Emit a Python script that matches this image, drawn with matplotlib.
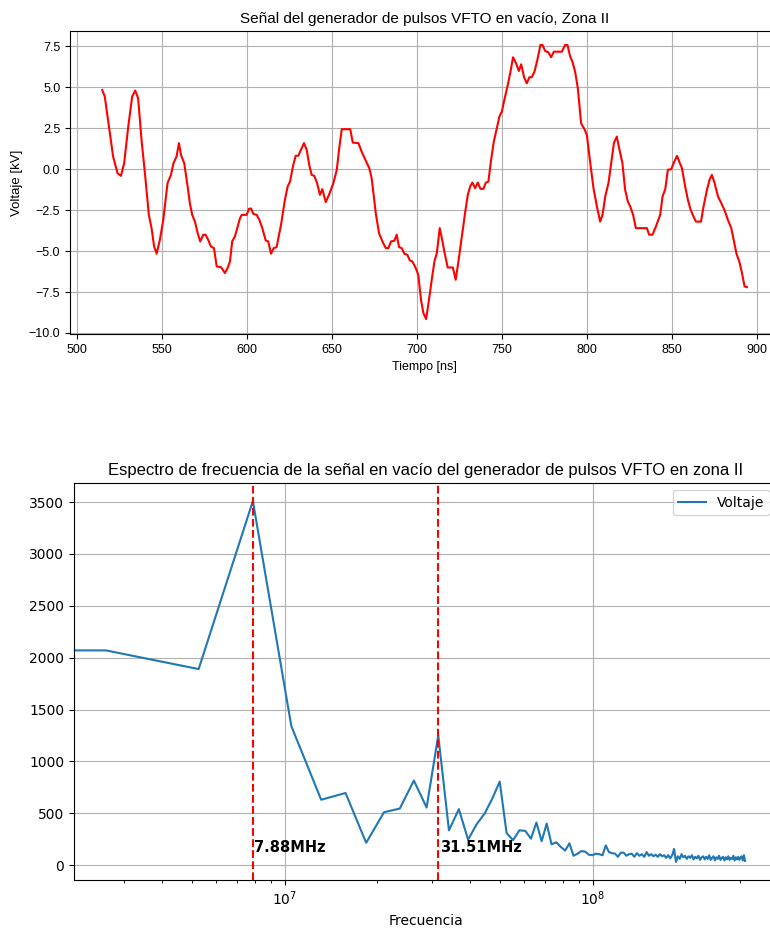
import numpy as np
import matplotlib
matplotlib.use('Agg')
import matplotlib.pyplot as plt

# Señal en el tiempo
tiempo_ns = [515.1, 516.6, 521.5, 524.1, 526.1, 528.0, 530.4, 532.7, 534.5, 536.2,
             538.2, 540.2, 542.5, 544.1, 545.6, 547.1, 549.0, 551.0, 553.5, 555.5,
             557.0, 558.8, 560.2, 561.4, 563.3, 565.3, 566.6, 568.0, 569.6, 571.2,
             572.7, 574.5, 575.8, 577.4, 579.0, 580.8, 582.4, 584.9, 585.7, 587.2,
             588.8, 590.2, 591.5, 593.1, 594.7, 596.1, 597.1, 600.0, 601.4, 602.6,
             603.9, 605.9, 607.5, 609.2, 611.2, 612.7, 614.3, 615.9, 617.6, 620.2,
             622.5, 624.1, 625.5, 627.4, 628.8, 630.4, 631.9, 633.7, 635.3, 636.8,
             638.2, 639.8, 641.4, 643.1, 644.5, 646.5, 648.4, 651.0, 653.0, 654.3,
             655.9, 660.9, 662.4, 665.7, 667.6, 670.0, 672.1, 673.5, 675.9, 677.8,
             679.8, 681.8, 683.3, 684.9, 686.8, 688.2, 689.6, 691.2, 692.7, 694.5,
             695.9, 697.4, 699.4, 700.9, 702.5, 703.9, 705.5, 707.2, 708.8, 710.4,
             711.8, 713.5, 715.1, 716.6, 718.2, 721.2, 722.9, 724.5, 726.5, 728.4,
             730.0, 731.4, 732.7, 734.3, 735.9, 737.4, 739.2, 740.6, 742.1, 743.7,
             745.3, 747.1, 748.6, 750.0, 751.5, 753.5, 755.1, 756.6, 758.4, 760.0,
             761.4, 763.1, 764.7, 766.2, 767.6, 769.2, 770.8, 772.7, 773.9, 775.5,
             777.4, 779.0, 780.6, 785.3, 787.2, 788.6, 790.2, 791.5, 793.1, 794.7,
             796.6, 798.6, 800.0, 802.0, 803.9, 805.9, 807.8, 809.2, 810.8, 812.7,
             814.3, 815.9, 817.6, 819.2, 820.9, 822.5, 824.1, 825.5, 827.2, 828.8,
             835.3, 836.6, 838.6, 840.6, 843.1, 844.5, 846.1, 847.6, 849.6, 851.0,
             853.0, 854.3, 855.9, 857.8, 859.4, 861.0, 862.7, 864.1, 867.1, 868.6,
             870.6, 872.1, 873.5, 875.1, 877.1, 879.0, 881.0, 882.9, 884.9, 886.5,
             888.0, 889.6, 891.2, 892.7, 894.1]
voltaje_kv = [4.83, 4.43, 0.77, -0.24, -0.41, 0.37, 2.6, 4.43, 4.8, 4.33,
              1.79, -0.24, -2.79, -3.6, -4.72, -5.16, -4.31, -3.09, -0.85, -0.35,
              0.37, 0.77, 1.59, 0.87, 0.37, -1.06, -2.07, -2.79, -3.2, -3.9,
              -4.41, -4.0, -4.0, -4.31, -4.72, -4.82, -5.94, -5.98, -6.1, -6.34,
              -6.04, -5.63, -4.41, -4.11, -3.5, -2.99, -2.79, -2.79, -2.42, -2.4,
              -2.73, -2.79, -3.1, -3.6, -4.35, -4.41, -5.16, -4.82, -4.76, -3.4,
              -1.87, -1.06, -0.76, 0.26, 0.81, 0.83, 1.18, 1.59, 1.18, 0.26,
              -0.35, -0.41, -0.85, -1.57, -1.22, -2.01, -1.57, -0.85, -0.04, 1.18,
              2.44, 2.44, 1.62, 1.59, 1.07, 0.52, 0.06, -0.55, -2.68, -3.9,
              -4.41, -4.82, -4.82, -4.41, -4.37, -4.0, -4.76, -4.82, -5.16, -5.23,
              -5.57, -5.63, -6.04, -6.45, -7.97, -8.78, -9.15, -7.97, -6.75, -5.63,
              -5.12, -3.6, -4.41, -5.23, -6.0, -6.0, -6.75, -5.63, -4.11, -2.68,
              -1.57, -1.06, -0.82, -1.16, -0.82, -1.2, -1.2, -0.82, -0.76, 0.57,
              1.68, 2.5, 3.21, 3.51, 4.23, 5.14, 5.95, 6.83, 6.46, 5.99,
              6.4, 5.61, 5.24, 5.61, 5.61, 5.95, 6.62, 7.58, 7.58, 7.21,
              7.13, 6.83, 7.17, 7.17, 7.58, 7.58, 6.87, 6.56, 5.95, 4.94,
              2.8, 2.44, 2.09, 0.37, -1.16, -2.28, -3.2, -2.79, -1.67, -0.85,
              0.37, 1.59, 1.99, 1.18, 0.37, -1.26, -1.98, -2.28, -2.79, -3.6,
              -3.6, -4.0, -4.0, -3.5, -2.79, -1.67, -1.22, -0.04, 0.0, 0.37,
              0.81, 0.46, 0.06, -1.06, -1.87, -2.48, -2.89, -3.2, -3.2, -2.28,
              -1.26, -0.65, -0.35, -0.85, -1.67, -2.07, -2.52, -3.09, -3.6, -4.41,
              -5.18, -5.63, -6.34, -7.16, -7.2]

# Espectro (magnitud, bins de la FFT)
n_muestras = 238
dt = 1.6e-9
amplitud = [2070, 2070, 1890, 3510, 1340, 630, 695, 215, 510, 545,
            815, 555, 1250, 335, 540, 245, 395, 500, 645, 805,
            310, 240, 335, 330, 255, 410, 230, 400, 200, 220,
            175, 140, 210, 90, 110, 135, 130, 100, 95, 110,
            105, 95, 190, 125, 115, 110, 80, 120, 120, 90,
            105, 110, 80, 115, 90, 105, 80, 125, 90, 105,
            85, 100, 80, 105, 85, 95, 70, 95, 65, 95,
            155, 30, 85, 60, 105, 75, 90, 60, 85, 70,
            95, 55, 80, 65, 90, 50, 75, 85, 55, 80,
            60, 95, 50, 70, 85, 45, 75, 60, 90, 50,
            70, 80, 45, 75, 55, 85, 50, 70, 60, 90,
            45, 75, 55, 80, 50, 70, 85, 45, 95, 40]
picos_mhz = [7.88, 31.51]

frecuencia = np.fft.rfftfreq(n_muestras, dt)

fig = plt.figure(figsize=(7.7, 9.35), dpi=100)

# Gráfica superior: señal en el tiempo
fuente_top = ['Liberation Sans', 'DejaVu Sans']
ax1 = fig.add_axes([0.0909, 0.6428, 0.921, 0.324])
ax1.plot(tiempo_ns, voltaje_kv, color='red', linewidth=1.5)
ax1.set_ylim(-10.06, 8.43)
ax1.set_title('Señal del generador de pulsos VFTO en vacío, Zona II',
              fontsize=11, family=fuente_top)
ax1.set_xlabel('Tiempo [ns]', fontsize=9, family=fuente_top)
ax1.set_ylabel('Voltaje [kV]', fontsize=9.5, family=fuente_top)
ax1.grid(True)
for lbl in ax1.get_xticklabels() + ax1.get_yticklabels():
    lbl.set_family(fuente_top)
    lbl.set_fontsize(9)

# Gráfica inferior: espectro
ax2 = fig.add_axes([0.0961, 0.0588, 0.913, 0.4246])
ax2.plot(frecuencia, amplitud, label='Voltaje')
ax2.set_xscale('log')
for p in picos_mhz:
    ax2.axvline(p * 1e6, color='red', linestyle='--', linewidth=1.5)
    ax2.text(p * 1e6 * 1.01, 100, f'{p:.2f}MHz', fontsize=10.5,
             fontweight='bold', va='bottom')
ax2.set_title('Espectro de frecuencia de la señal en vacío del generador de pulsos VFTO en zona II',
              fontsize=12, family=['Liberation Sans', 'DejaVu Sans'])
ax2.set_xlabel('Frecuencia', fontsize=10)
ax2.grid(True)
ax2.legend(loc='upper right', fontsize=10)

fig.savefig('out.png', dpi=100)
